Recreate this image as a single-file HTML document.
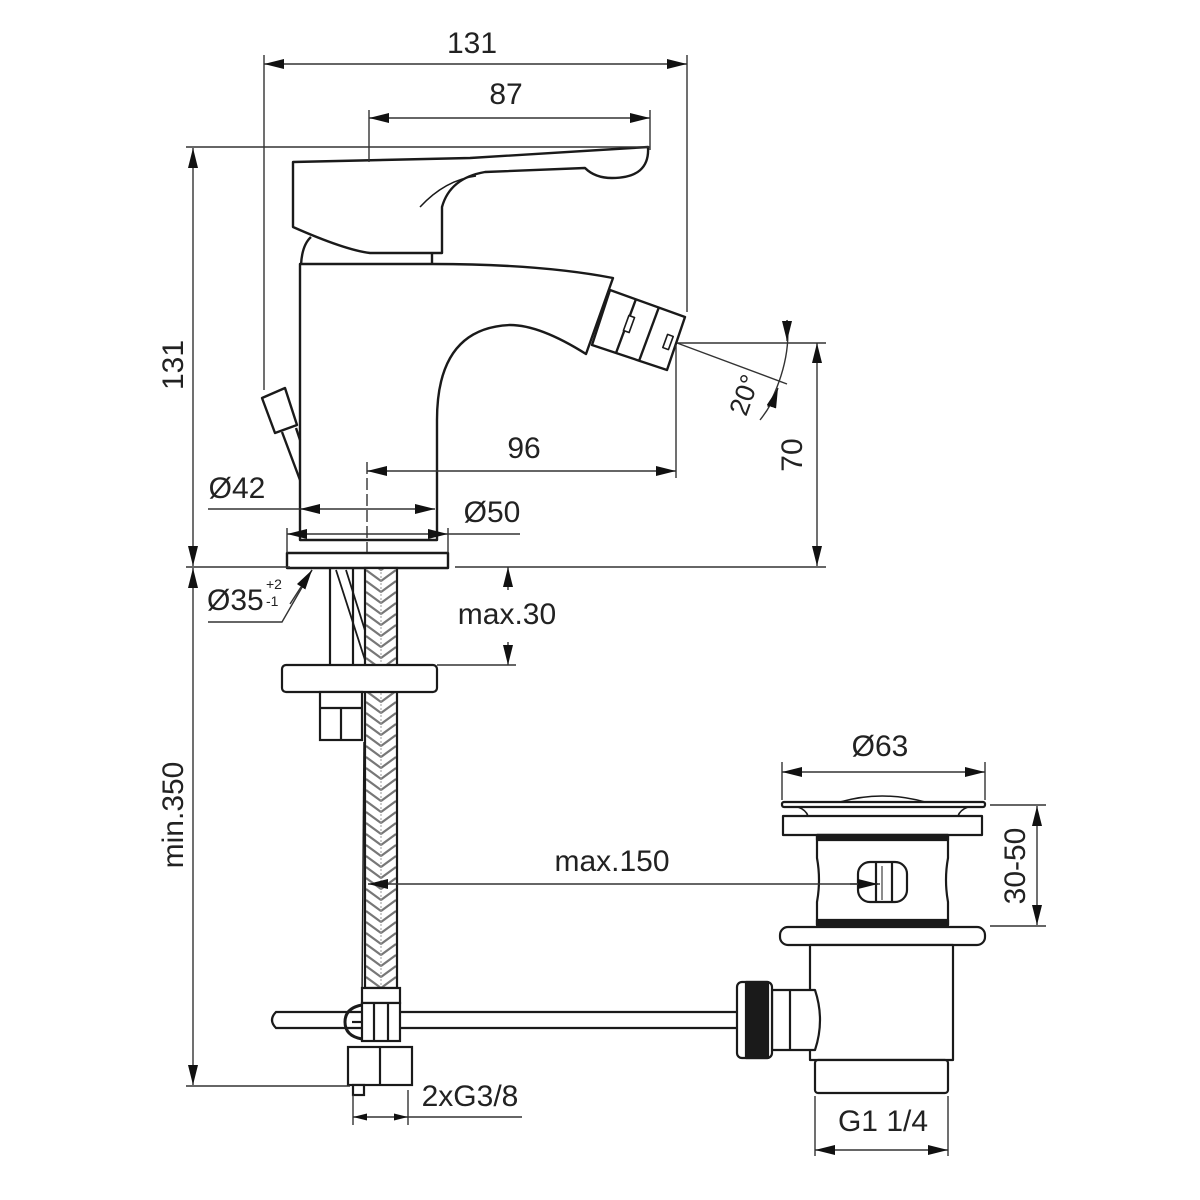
<!DOCTYPE html>
<html><head><meta charset="utf-8"><style>
html,body{margin:0;padding:0;background:#fff;}
svg{display:block;}
text{font-family:"Liberation Sans",sans-serif;fill:#222;}
</style></head><body>
<svg width="1200" height="1200" viewBox="0 0 1200 1200" xmlns="http://www.w3.org/2000/svg">
<defs>
<marker id="a" viewBox="0 0 20 10" refX="20" refY="5" markerWidth="20" markerHeight="10" markerUnits="userSpaceOnUse" orient="auto-start-reverse"><path d="M0,0 L20,5 L0,10 z" fill="#111"/></marker>
<marker id="b" viewBox="0 0 20 10" refX="20" refY="5" markerWidth="14" markerHeight="8" markerUnits="userSpaceOnUse" orient="auto-start-reverse"><path d="M0,0 L20,5 L0,10 z" fill="#111"/></marker>
<pattern id="braid" x="365" y="0" width="32" height="11" patternUnits="userSpaceOnUse">
<rect width="32" height="11" fill="#fff"/>
<path d="M1,-2 L16,9 M31,-2 L16,9 M1,9 L16,20 M31,9 L16,20" stroke="#777" stroke-width="2.2" fill="none"/>
<line x1="16" y1="0" x2="16" y2="11" stroke="#999" stroke-width="1" stroke-dasharray="2,2"/>
</pattern>
</defs>

<g stroke="#1a1a1a" stroke-width="2.4" fill="#fff" stroke-linejoin="round">
<path d="M300,540 L300,264 L433,264 Q540,264 613,278 L586,354 Q540,325 510,325 Q437,328 437,420 L437,540 Z"/>
<path d="M301,265 Q302,245 311,237" fill="none"/>
<line x1="432" y1="253" x2="432" y2="264"/>
<path d="M293,162 L470,158 L648,147 Q650,178 612,178 Q595,178 585,168 L485,172 Q450,178 442,207 L442,253 L370,253 Q345,250 293,227 Z"/>
<path d="M420,207 Q445,180 476,176" fill="none" stroke-width="1.5"/>
<path d="M610,290 L685,317 L667,370 L592,345 Z"/>
<line x1="636" y1="299" x2="616" y2="353" />
<line x1="659" y1="307" x2="639" y2="361" />
<rect x="626" y="316" width="6" height="16" transform="rotate(20 629 324)" stroke-width="1.6"/>
<rect x="665" y="335" width="6" height="14" transform="rotate(20 668 342)" stroke-width="1.6"/>
<path d="M262,398 L285,388 L297,425 L275,433 Z"/>
<path d="M282,432 L300,480 M296,428 L300,440" fill="none"/>
<rect x="287" y="553" width="161" height="15"/>
</g>

<g stroke="#1a1a1a" stroke-width="2.2" fill="#fff">
<line x1="330" y1="568" x2="330" y2="665"/>
<line x1="353" y1="568" x2="353" y2="665"/>
<path d="M336,570 L365,660 M346,570 L368,640" fill="none" stroke-width="1.8"/>
<rect x="365" y="568" width="32" height="420" fill="url(#braid)"/>
<rect x="282" y="665" width="155" height="27" rx="4"/>
<rect x="320" y="692" width="42" height="48"/>
<line x1="341" y1="708" x2="341" y2="740"/>
<line x1="320" y1="708" x2="362" y2="708"/>
<path d="M364,742 L362,1000" fill="none" stroke-width="1.5"/>
<path d="M276,1012 L740,1012 L740,1028 L276,1028 Q268,1020 276,1012 Z"/>
<rect x="362" y="988" width="38" height="15"/>
<rect x="362" y="1003" width="38" height="38"/>
<line x1="374" y1="1003" x2="374" y2="1041"/>
<line x1="388" y1="1003" x2="388" y2="1041"/>
<path d="M362,1005 Q345,1008 345,1022 Q345,1036 362,1039" fill="none" stroke-width="3"/>
<line x1="352" y1="1022" x2="362" y2="1022"/>
<rect x="348" y="1047" width="64" height="38"/>
<line x1="380" y1="1047" x2="380" y2="1085"/>
<rect x="353" y="1085" width="11" height="10"/>
</g>

<g stroke="#1a1a1a" stroke-width="2.2" fill="#fff" stroke-linejoin="round">
<path d="M840,802 Q882,790 925,802 Z" stroke-width="1.5"/>
<rect x="782" y="802" width="203" height="5" rx="2"/>
<path d="M798,807 Q806,810 808,816 M968,807 Q960,810 958,816" fill="none" stroke-width="1.6"/>
<rect x="783" y="816" width="199" height="19"/>
<path d="M817,835 L948,835 L948,858 Q944,880 948,902 L948,925 L817,925 L817,902 Q821,880 817,858 Z"/>
<rect x="817" y="835" width="131" height="5" fill="#1a1a1a"/>
<rect x="817" y="920" width="131" height="5" fill="#1a1a1a"/>
<rect x="858" y="862" width="49" height="40" rx="12"/>
<line x1="876" y1="862" x2="876" y2="902"/>
<line x1="882" y1="866" x2="882" y2="900" stroke-width="1"/>
<line x1="892" y1="862" x2="892" y2="902"/>
<rect x="780" y="927" width="205" height="18" rx="8"/>
<rect x="810" y="945" width="143" height="115"/>
<rect x="815" y="1060" width="133" height="33" rx="3"/>
<path d="M772,990 L815,990 Q825,1020 815,1050 L772,1050 Z"/>
<line x1="790" y1="990" x2="790" y2="1050"/>
<rect x="737" y="982" width="35" height="76" rx="5"/>
<rect x="746" y="982" width="22" height="76" fill="#1a1a1a"/>
</g>

<g stroke="#333" stroke-width="1.4" fill="none">
<line x1="264" y1="64" x2="687" y2="64" marker-start="url(#a)" marker-end="url(#a)"/>
<line x1="264" y1="55" x2="264" y2="390"/>
<line x1="687" y1="55" x2="687" y2="312"/>
<line x1="369" y1="118" x2="650" y2="118" marker-start="url(#a)" marker-end="url(#a)"/>
<line x1="369" y1="110" x2="369" y2="162"/>
<line x1="650" y1="110" x2="650" y2="150"/>
<line x1="186" y1="147" x2="650" y2="147"/>
<line x1="193" y1="148" x2="193" y2="566" marker-start="url(#a)" marker-end="url(#a)"/>
<line x1="186" y1="567" x2="290" y2="567"/>
<line x1="455" y1="567" x2="826" y2="567"/>
<line x1="193" y1="568" x2="193" y2="1085" marker-start="url(#a)" marker-end="url(#a)"/>
<line x1="186" y1="1086" x2="350" y2="1086"/>
<line x1="367" y1="471" x2="676" y2="471" marker-start="url(#a)" marker-end="url(#a)"/>
<line x1="676" y1="345" x2="676" y2="478"/>
<line x1="367" y1="462" x2="367" y2="552" stroke-dasharray="12,4"/>
<line x1="208" y1="509" x2="300" y2="509"/>
<line x1="300" y1="509" x2="435" y2="509" marker-start="url(#a)" marker-end="url(#a)"/>
<line x1="287" y1="534" x2="448" y2="534" marker-start="url(#a)" marker-end="url(#a)"/>
<line x1="448" y1="534" x2="520" y2="534"/>
<line x1="287" y1="528" x2="287" y2="553"/>
<line x1="448" y1="528" x2="448" y2="553"/>
<line x1="677" y1="343" x2="826" y2="343"/>
<line x1="817" y1="343" x2="817" y2="566" marker-start="url(#a)" marker-end="url(#a)"/>
<line x1="677" y1="343" x2="787" y2="384"/>
<path d="M787,320 Q792,360 768,407" />
<path d="M787,320 L787,341" marker-end="url(#a)"/>
<path d="M760,420 Q772,405 778,388" marker-end="url(#a)"/>
<line x1="508" y1="567" x2="508" y2="590" marker-start="url(#a)"/>
<line x1="508" y1="642" x2="508" y2="665" marker-end="url(#a)"/>
<line x1="437" y1="665" x2="516" y2="665"/>
<polyline points="208,622 282,622 312,570"/>
<line x1="290" y1="604" x2="312" y2="570" marker-end="url(#a)"/>
<line x1="398" y1="884" x2="880" y2="884"/>
<line x1="398" y1="884" x2="368" y2="884" marker-end="url(#a)"/>
<line x1="850" y1="884" x2="878" y2="884" marker-end="url(#a)"/>
<line x1="353" y1="1095" x2="353" y2="1125"/>
<line x1="408" y1="1090" x2="408" y2="1125"/>
<line x1="380" y1="1117" x2="353" y2="1117" marker-end="url(#b)"/>
<line x1="380" y1="1117" x2="408" y2="1117" marker-end="url(#b)"/>
<line x1="408" y1="1117" x2="522" y2="1117"/>
<line x1="782" y1="772" x2="985" y2="772" marker-start="url(#a)" marker-end="url(#a)"/>
<line x1="782" y1="762" x2="782" y2="800"/>
<line x1="985" y1="762" x2="985" y2="800"/>
<line x1="990" y1="805" x2="1046" y2="805"/>
<line x1="990" y1="926" x2="1046" y2="926"/>
<line x1="1037" y1="806" x2="1037" y2="925" marker-start="url(#a)" marker-end="url(#a)"/>
<line x1="815" y1="1096" x2="815" y2="1156"/>
<line x1="948" y1="1096" x2="948" y2="1156"/>
<line x1="815" y1="1150" x2="948" y2="1150" marker-start="url(#a)" marker-end="url(#a)"/>
</g>

<g font-size="30">
<text x="472" y="53" text-anchor="middle">131</text>
<text x="506" y="104" text-anchor="middle">87</text>
<text transform="translate(183,365) rotate(-90)" text-anchor="middle">131</text>
<text x="524" y="458" text-anchor="middle">96</text>
<text x="237" y="498" text-anchor="middle">Ø42</text>
<text x="492" y="522" text-anchor="middle">Ø50</text>
<text transform="translate(802,455) rotate(-90)" text-anchor="middle">70</text>
<text transform="translate(753,398) rotate(-70)" text-anchor="middle" font-size="27">20°</text>
<text x="207" y="610">Ø35</text>
<text x="266" y="589" font-size="14">+2</text>
<text x="266" y="606" font-size="14">-1</text>
<text x="507" y="624" text-anchor="middle">max.30</text>
<text transform="translate(183,815) rotate(-90)" text-anchor="middle">min.350</text>
<text x="612" y="871" text-anchor="middle">max.150</text>
<text x="470" y="1106" text-anchor="middle">2xG3/8</text>
<text x="880" y="756" text-anchor="middle">Ø63</text>
<text transform="translate(1025,866) rotate(-90)" text-anchor="middle">30-50</text>
<text x="883" y="1131" text-anchor="middle">G1 1/4</text>
</g>
</svg>
</body></html>
